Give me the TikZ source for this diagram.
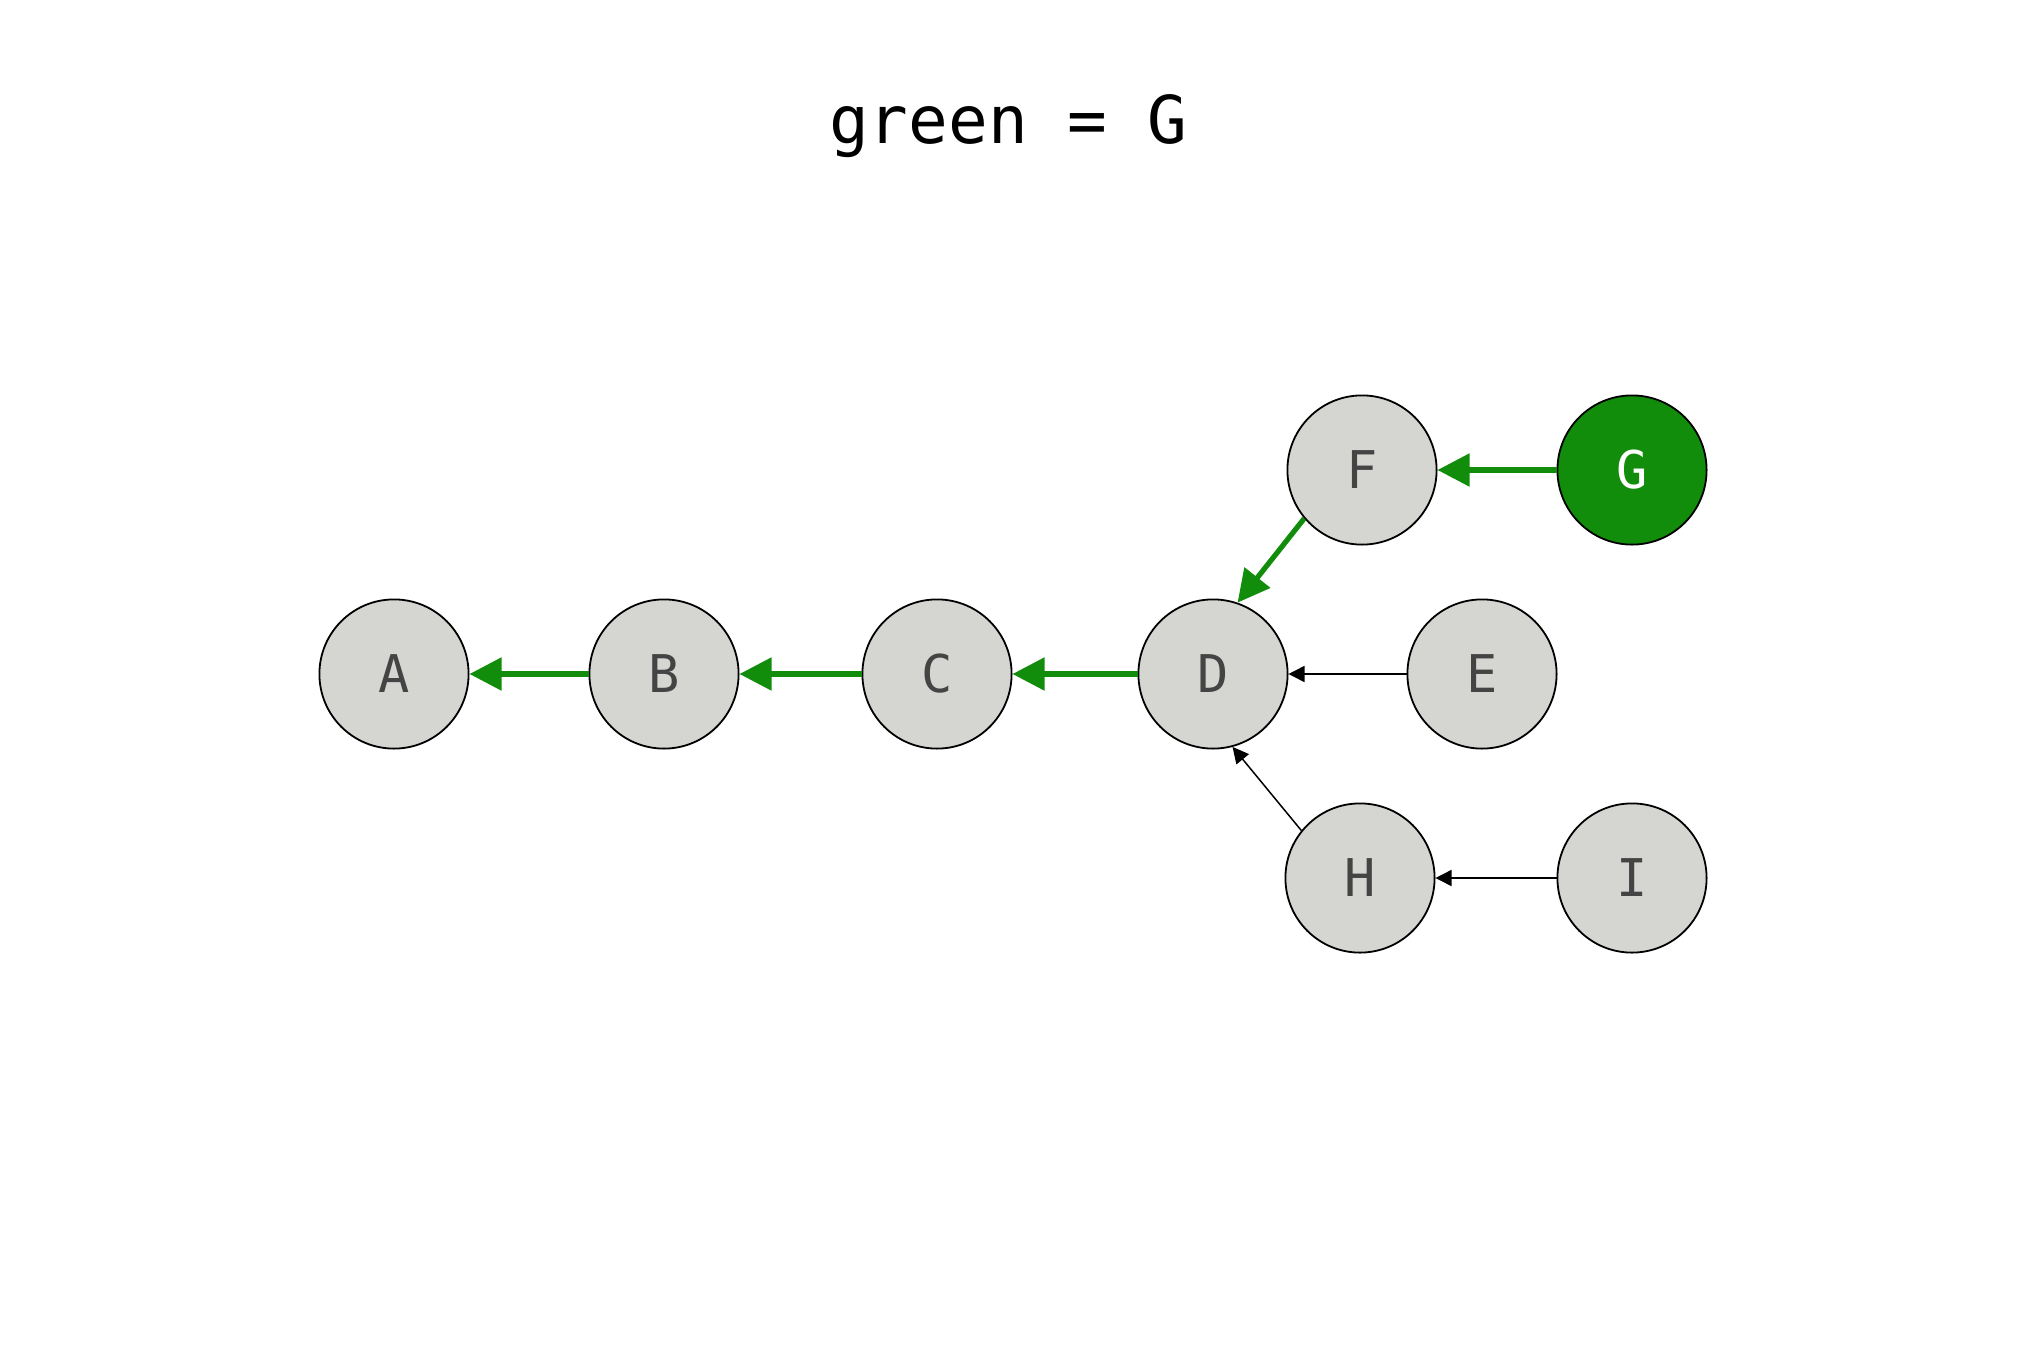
\documentclass[tikz,border=0pt]{standalone}
\usepackage{fontspec}
\setmonofont{DejaVu Sans Mono}
\usetikzlibrary{arrows.meta}
\definecolor{nodegray}{HTML}{D5D6D1}
\definecolor{gitgreen}{HTML}{118C0B}
\definecolor{lettergray}{HTML}{444444}
\tikzset{
  commit/.style={circle, draw=black, line width=0.9pt, fill=nodegray, minimum size=74.6pt, inner sep=0pt,
    font=\ttfamily\fontsize{26}{26}\selectfont, text=lettergray},
  head/.style={commit, fill=gitgreen, text=white},
  greenedge/.style={draw=gitgreen, line width=2.6pt, -{Triangle[length=16pt,width=16pt]}},
  blackedge/.style={draw=black, line width=0.75pt, -{Triangle[length=8pt,width=8pt]}}
}
\begin{document}
\begin{tikzpicture}[x=0.5pt,y=-0.5pt]
\useasboundingbox (0,0) rectangle (2025,1350);
\node (title) at (1008,126) {\ttfamily\fontsize{33}{33}\selectfont green = G};
\node[commit] (A) at (394,674) {A};
\node[commit] (B) at (664,674) {B};
\node[commit] (C) at (937,674) {C};
\node[commit] (D) at (1213,674) {D};
\node[commit] (E) at (1482,674) {E};
\node[commit] (F) at (1362,470) {F};
\node[head] (G) at (1632,470) {G};
\node[commit] (H) at (1360,878) {H};
\node[commit] (I) at (1632,878) {I};
\draw[greenedge] (B) -- (A);
\draw[greenedge] (C) -- (B);
\draw[greenedge] (D) -- (C);
\draw[greenedge] (F.220) -- (D.71);
\draw[greenedge] (G) -- (F);
\draw[blackedge] (E) -- (D);
\draw[blackedge] (H.141) -- (D.285);
\draw[blackedge] (I) -- (H);
\end{tikzpicture}
\end{document}
